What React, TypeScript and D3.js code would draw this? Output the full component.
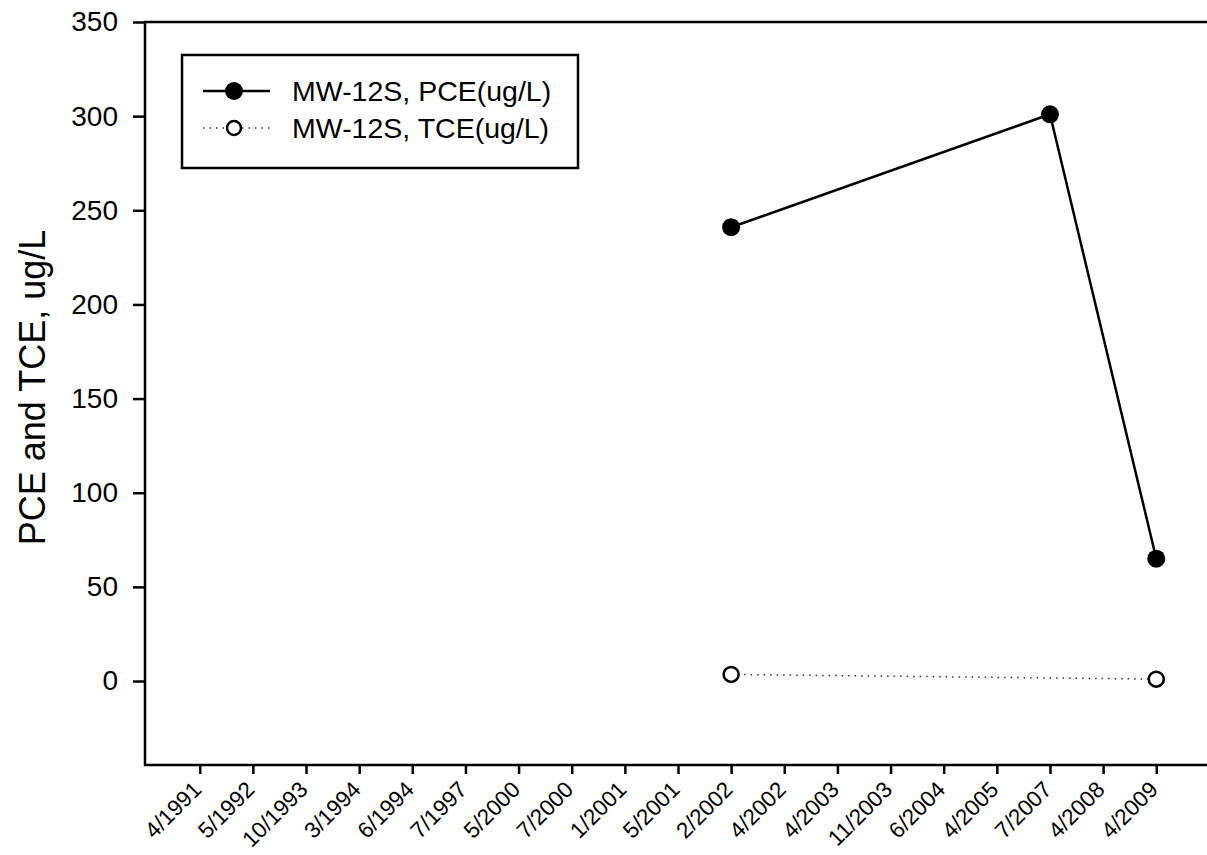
import React, { useEffect, useRef } from "react";
import * as d3 from "d3";

// Sampling dates (categorical x axis)
const sampleDates = [
  "4/1991", "5/1992", "10/1993", "3/1994", "6/1994", "7/1997", "5/2000",
  "7/2000", "1/2001", "5/2001", "2/2002", "4/2002", "4/2003", "11/2003",
  "6/2004", "4/2005", "7/2007", "4/2008", "4/2009",
];

// MW-12S concentrations, ug/L
const pceDates = ["2/2002", "7/2007", "4/2009"];
const pceValues = [241, 301, 65];
const tceDates = ["2/2002", "4/2009"];
const tceValues = [3.5, 1];

const yTicks = [0, 50, 100, 150, 200, 250, 300, 350];

const W = 1207;
const H = 855;
const FONT = "Arial, 'Liberation Sans', Helvetica, sans-serif";

export default function App() {
  const ref = useRef<SVGSVGElement>(null);

  useEffect(() => {
    const svg = d3.select(ref.current);
    svg.selectAll("*").remove();

    const left = 145, top = 22, right = 1211, bottom = 765;

    const x = d3.scalePoint<string>().domain(sampleDates).range([left, right]).padding(1.03);
    const y = d3.scaleLinear().domain([-44.6, 350]).range([bottom, top]);

    const g = svg.append("g");

    // frame: top and left borders, bottom axis
    g.append("path")
      .attr("d", `M${right},${top}H${left}V${bottom}H${right}`)
      .attr("fill", "none").attr("stroke", "#000").attr("stroke-width", 2.5);

    // y axis
    const yAxis = g.append("g").attr("transform", `translate(${left},0)`)
      .call(d3.axisLeft(y).tickValues(yTicks).tickSize(12).tickPadding(15).tickFormat(d3.format("d")));
    yAxis.select(".domain").remove();
    yAxis.selectAll("line").attr("stroke", "#000").attr("stroke-width", 2.5);
    yAxis.selectAll("text").attr("font-family", FONT).attr("font-size", 28).attr("fill", "#000");

    // x axis ticks
    const xAxis = g.append("g").attr("transform", `translate(0,${bottom})`)
      .call(d3.axisBottom(x).tickSize(9).tickFormat(() => ""));
    xAxis.select(".domain").remove();
    xAxis.selectAll("line").attr("stroke", "#000").attr("stroke-width", 2.5);

    // x tick labels, rotated
    g.append("g").selectAll("text").data(sampleDates).enter().append("text")
      .attr("transform", (d) => `translate(${x(d)! + 3},${bottom + 26}) rotate(-45)`)
      .attr("text-anchor", "end")
      .attr("font-family", FONT).attr("font-size", 22.5).attr("fill", "#000")
      .text((d) => d);

    // y title
    g.append("text")
      .attr("transform", `translate(45,${(top + bottom) / 2 - 6}) rotate(-90)`)
      .attr("text-anchor", "middle")
      .attr("font-family", FONT).attr("font-size", 36)
      .text("PCE and TCE, ug/L");

    const pce = pceDates.map((d, i) => ({ d, v: pceValues[i] }));
    const tce = tceDates.map((d, i) => ({ d, v: tceValues[i] }));
    const line = d3.line<{ d: string; v: number }>().x((p) => x(p.d)!).y((p) => y(p.v));

    // TCE series (dotted, open markers)
    g.append("path").attr("d", line(tce)!).attr("fill", "none")
      .attr("stroke", "#333").attr("stroke-width", 1.5).attr("stroke-dasharray", "1.5,5");
    g.selectAll(".tce").data(tce).enter().append("circle")
      .attr("cx", (p) => x(p.d)!).attr("cy", (p) => y(p.v)).attr("r", 7.5)
      .attr("fill", "#fff").attr("stroke", "#000").attr("stroke-width", 2.5);

    // PCE series (solid, filled markers)
    g.append("path").attr("d", line(pce)!).attr("fill", "none")
      .attr("stroke", "#000").attr("stroke-width", 2.5);
    g.selectAll(".pce").data(pce).enter().append("circle")
      .attr("cx", (p) => x(p.d)!).attr("cy", (p) => y(p.v)).attr("r", 9)
      .attr("fill", "#000");

    // legend
    const lg = g.append("g");
    lg.append("rect").attr("x", 182).attr("y", 55).attr("width", 396).attr("height", 113)
      .attr("fill", "#fff").attr("stroke", "#000").attr("stroke-width", 2.5);
    const rows = [
      { label: "MW-12S, PCE(ug/L)", filled: true, yy: 91 },
      { label: "MW-12S, TCE(ug/L)", filled: false, yy: 128 },
    ];
    rows.forEach((r) => {
      lg.append("line").attr("x1", 203).attr("x2", 270).attr("y1", r.yy).attr("y2", r.yy)
        .attr("stroke", r.filled ? "#000" : "#333")
        .attr("stroke-width", r.filled ? 2.5 : 1.5)
        .attr("stroke-dasharray", r.filled ? null : "1.5,5");
      lg.append("circle").attr("cx", 234).attr("cy", r.yy).attr("r", r.filled ? 9 : 7)
        .attr("fill", r.filled ? "#000" : "#fff").attr("stroke", "#000")
        .attr("stroke-width", r.filled ? 0 : 2.5);
      lg.append("text").attr("x", 292).attr("y", r.yy + 10)
        .attr("font-family", FONT).attr("font-size", 28.5).text(r.label);
    });
  }, []);

  return (
    <svg ref={ref} width={W} height={H}
      style={{ position: "absolute", left: 0, top: 0, background: "#fff" }} />
  );
}
